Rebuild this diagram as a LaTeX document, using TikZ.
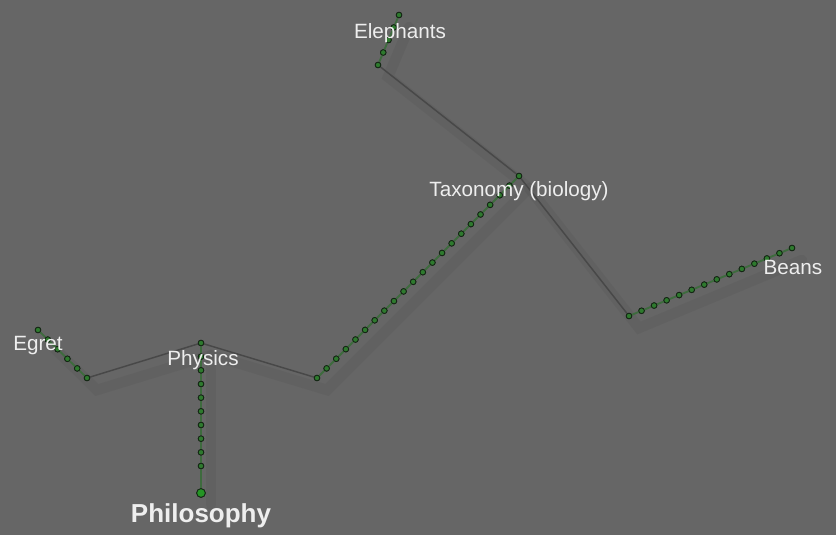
\documentclass[tikz,border=0pt]{standalone}
\usepackage{fontspec}
\setmainfont{Liberation Sans}
\definecolor{bgc}{HTML}{666666}
\definecolor{edgec}{HTML}{484848}
\definecolor{linkc}{HTML}{3E6B3E}
\definecolor{dotc}{HTML}{2E7A2E}
\definecolor{dotline}{HTML}{142414}
\definecolor{txtc}{HTML}{EEEEEE}
\begin{document}
\begin{tikzpicture}[x=0.75pt,y=-0.75pt,
  dot/.style={circle,inner sep=0pt,minimum size=4.2pt,fill=dotc,draw=dotline,line width=0.6pt},
  bigdot/.style={circle,inner sep=0pt,minimum size=6.5pt,fill=dotc!80!green,draw=dotline,line width=0.6pt},
  edge/.style={draw=edgec,line width=1.1pt},
  link/.style={draw=linkc,line width=1.4pt},
  shade/.style={draw=black,opacity=0.045,line width=8pt,line cap=round},
  lbl/.style={text=txtc,inner sep=0pt,font=\fontsize{15.5}{18}\selectfont},
  biglbl/.style={text=txtc,inner sep=0pt,font=\fontsize{19.5}{22}\selectfont\bfseries}]
\fill[bgc] (0,0) rectangle (836,535);
\useasboundingbox (0,0) rectangle (836,535);
% Elephants chain
\foreach \i [evaluate=\i as \x using 399-\i*21/4, evaluate=\i as \y using 15+\i*50/4] in {0,...,4}
  \node[dot] (e\i) at (\x,\y) {};
% Taxonomy chain
\foreach \i [evaluate=\i as \x using 519-\i*202/21, evaluate=\i as \y using 176+\i*202/21] in {0,...,21}
  \node[dot] (t\i) at (\x,\y) {};
% Beans chain
\foreach \i [evaluate=\i as \x using 629+\i*163/13, evaluate=\i as \y using 316-\i*68/13] in {0,...,13}
  \node[dot] (b\i) at (\x,\y) {};
% Egret chain
\foreach \i [evaluate=\i as \x using 87-\i*49/5, evaluate=\i as \y using 378-\i*48/5] in {0,...,5}
  \node[dot] (g\i) at (\x,\y) {};
% Physics chain
\foreach \i [evaluate=\i as \y using 343+\i*123/9] in {0,...,9}
  \node[dot] (p\i) at (201,\y) {};
\node[bigdot] (ph) at (201,493) {};
% shadows
\draw[shade] ([shift={(10,12)}]e0.center) -- ([shift={(10,12)}]e4.center) -- ([shift={(10,12)}]t0.center) -- ([shift={(10,12)}]t21.center) -- ([shift={(10,12)}]p0.center) -- ([shift={(10,12)}]g0.center) -- ([shift={(10,12)}]g5.center);
\draw[shade] ([shift={(10,12)}]t0.center) -- ([shift={(10,12)}]b0.center) -- ([shift={(10,12)}]b13.center);
\draw[shade] ([shift={(10,12)}]p0.center) -- ([shift={(10,12)}]ph.center);
% gray edges
\draw[edge] (e4) -- (t0);
\draw[edge] (t0) -- (b0);
\draw[edge] (t21) -- (p0);
\draw[edge] (p0) -- (g0);
% chain links
\foreach \a/\b in {0/1,1/2,2/3,3/4} \draw[link] (e\a) -- (e\b);
\foreach \a [evaluate=\a as \b using int(\a+1)] in {0,...,20} \draw[link] (t\a) -- (t\b);
\foreach \a [evaluate=\a as \b using int(\a+1)] in {0,...,12} \draw[link] (b\a) -- (b\b);
\foreach \a [evaluate=\a as \b using int(\a+1)] in {0,...,4} \draw[link] (g\a) -- (g\b);
\foreach \a [evaluate=\a as \b using int(\a+1)] in {0,...,8} \draw[link] (p\a) -- (p\b);
\draw[link] (p9) -- (ph);
% redraw dots on top
\foreach \i in {0,...,4} \node[dot] at (e\i) {};
\foreach \i in {0,...,21} \node[dot] at (t\i) {};
\foreach \i in {0,...,13} \node[dot] at (b\i) {};
\foreach \i in {0,...,5} \node[dot] at (g\i) {};
\foreach \i in {0,...,9} \node[dot] at (p\i) {};
\node[bigdot] at (ph) {};
% labels
\node[lbl] (lElephants) at (400,33) {Elephants};
\node[lbl] (lTax) at (519,191) {Taxonomy (biology)};
\node[lbl] (lBeans) at (793,267) {Beans};
\node[lbl] (lEgret) at (38,346) {Egret};
\node[lbl] (lPhys) at (203,360) {Physics};
\node[biglbl] (lPhil) at (201,516) {Philosophy};
\end{tikzpicture}
\end{document}
